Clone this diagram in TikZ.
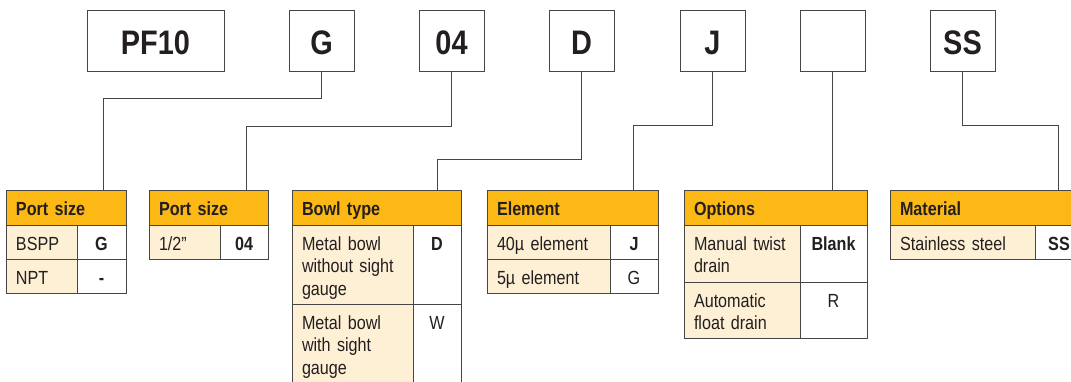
\documentclass[tikz,border=0pt]{standalone}
\usepackage{fontspec}
\setmainfont{Liberation Sans}[FakeStretch=0.85]
\usetikzlibrary{positioning}

\definecolor{hdrorange}{RGB}{252,185,22}
\definecolor{keycream}{RGB}{254,240,213}
\definecolor{linegrey}{RGB}{70,70,70}
\definecolor{inkdark}{RGB}{35,31,32}

\tikzset{
  codebox/.style={draw=linegrey, line width=1pt, anchor=north west, inner sep=0pt, outer sep=0pt,
    minimum width=65pt, minimum height=61pt, text height=28pt, text depth=0pt,
    font=\fontsize{34}{36}\selectfont\bfseries},
  cell/.style={draw=linegrey, line width=0.9pt, anchor=north west, inner xsep=10pt, inner ysep=0pt,
    outer sep=0pt, text height=25pt, text depth=9pt, font=\fontsize{19}{22.5}\selectfont},
  hdr/.style={cell, fill=hdrorange, text depth=10pt, align=left,
    font=\fontsize{19}{22.5}\selectfont\bfseries},
  keycell/.style={cell, fill=keycream, align=left},
  valcell/.style={cell, fill=white, align=center},
  codeval/.style={valcell, font=\fontsize{19}{22.5}\selectfont\bfseries},
  link/.style={draw=linegrey, line width=1pt},
}

\begin{document}
\begin{tikzpicture}[x=1pt, y=-1pt, text=inkdark]
        \useasboundingbox (0,0) rectangle (1071,381);

        % Order code boxes
        \node [codebox, minimum width=137pt] (cPf) at (87,10) {PF10};
        \node [codebox] (cG) at (289,10) {G};
        \node [codebox] (cSize) at (419,10) {04};
        \node [codebox] (cBowl) at (549,10) {D};
        \node [codebox] (cElem) at (680,10) {J};
        \node [codebox] (cOpt) at (800,10) {};
        \node [codebox] (cMat) at (930,10) {SS};

        % Port size (thread)
        \node [hdr, text width=100pt] (hPortA) at (6,190) {Port size};
        \node [keycell, text width=51pt] (kBspp) at (hPortA.south west) {BSPP};
        \node [codeval, text width=29pt] (vBspp) at (kBspp.north east) {G};
        \node [keycell, text width=51pt] (kNpt) at (kBspp.south west) {NPT};
        \node [codeval, text width=29pt] (vNpt) at (kNpt.north east) {-};

        % Port size (size)
        \node [hdr, text width=99pt] (hPortB) at (149,190) {Port size};
        \node [keycell, text width=51pt] (kHalf) at (hPortB.south west) {1/2"};
        \node [codeval, text width=28pt] (vHalf) at (kHalf.north east) {04};

        % Bowl type
        \node [hdr, text width=149pt] (hBowl) at (292,190) {Bowl type};
        \node [keycell, text width=101pt, text depth=54pt] (kNoGauge) at (hBowl.south west) {Metal bowl\\without sight\\gauge};
        \node [codeval, text width=28pt, text depth=54pt] (vNoGauge) at (kNoGauge.north east) {D};
        \node [keycell, text width=101pt, text depth=54pt] (kGauge) at (kNoGauge.south west) {Metal bowl\\with sight\\gauge};
        \node [valcell, text width=28pt, text depth=54pt] (vGauge) at (kGauge.north east) {W};

        % Element
        \node [hdr, text width=151pt] (hElem) at (487,190) {Element};
        \node [keycell, text width=103pt] (kForty) at (hElem.south west) {40µ element};
        \node [codeval, text width=28pt] (vForty) at (kForty.north east) {J};
        \node [keycell, text width=103pt] (kFive) at (kForty.south west) {5µ element};
        \node [valcell, text width=28pt] (vFive) at (kFive.north east) {G};

        % Options
        \node [hdr, text width=163pt] (hOpt) at (684,190) {Options};
        \node [keycell, text width=96pt, text depth=32pt] (kManual) at (hOpt.south west) {Manual twist\\drain};
        \node [codeval, text width=47pt, text depth=32pt] (vManual) at (kManual.north east) {Blank};
        \node [keycell, text width=96pt, text depth=31pt] (kAuto) at (kManual.south west) {Automatic\\float drain};
        \node [valcell, text width=47pt, text depth=31pt] (vAuto) at (kAuto.north east) {R};

        % Material
        \node [hdr, text width=173pt] (hMat) at (890,190) {Material};
        \node [keycell, text width=125pt] (kSteel) at (hMat.south west) {Stainless steel};
        \node [codeval, text width=28pt] (vSteel) at (kSteel.north east) {SS};

        % Connectors
        \draw [link] (cG.south) -- ++(0,27) -| ([xshift=97pt]hPortA.north west);
        \draw [link] (cSize.south) -- ++(0,55) -| ([xshift=97pt]hPortB.north west);
        \draw [link] (cBowl.south) -- ++(0,88) -| ([xshift=145pt]hBowl.north west);
        \draw [link] (cElem.south) -- ++(0,54) -| ([xshift=146pt]hElem.north west);
        \draw [link] (cOpt.south) -- (cOpt.south |- hOpt.north);
        \draw [link] (cMat.south) -- ++(0,54) -| ([xshift=168pt]hMat.north west);
    \end{tikzpicture}
\end{document}
